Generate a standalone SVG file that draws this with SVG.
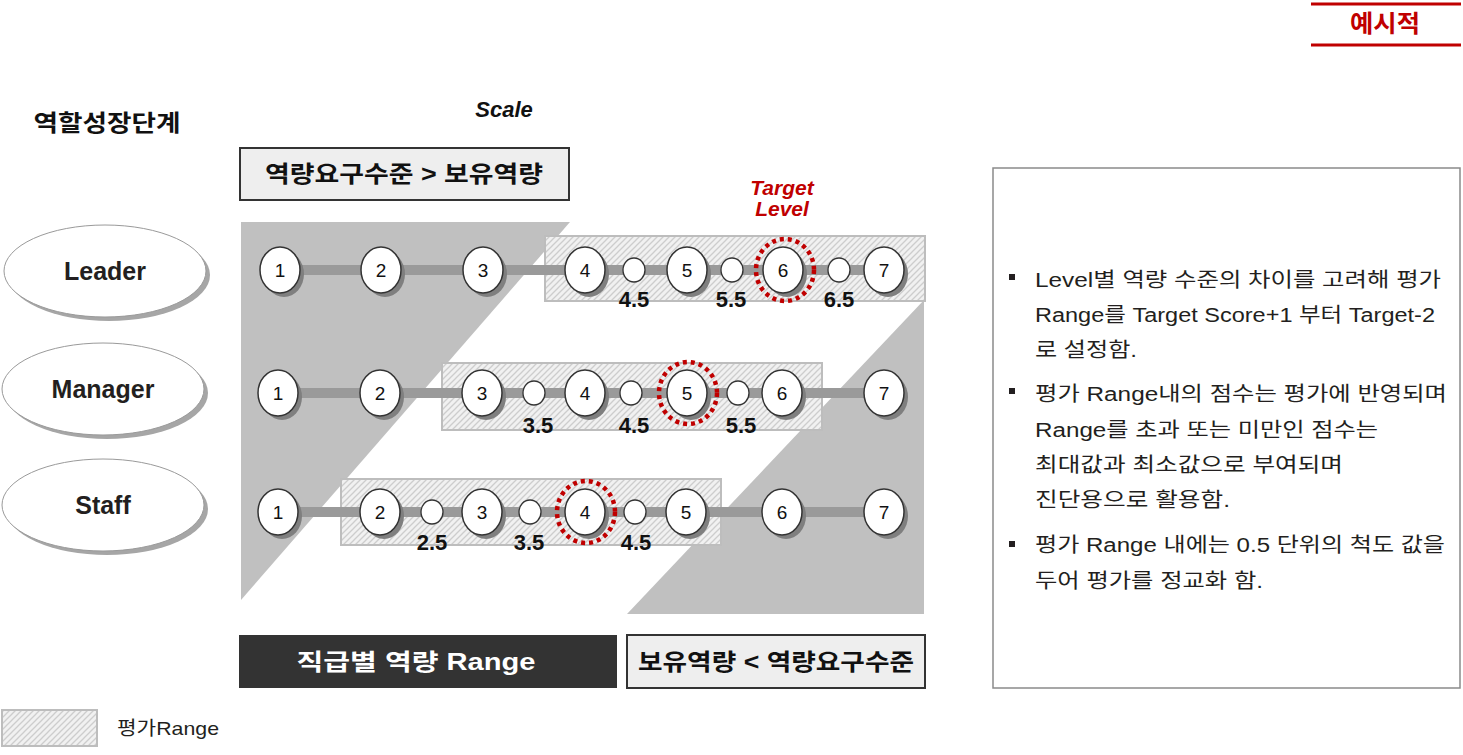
<svg xmlns="http://www.w3.org/2000/svg" width="1463" height="755" viewBox="0 0 1463 755">
<defs>
<pattern id="hatch" patternUnits="userSpaceOnUse" width="6" height="6">
<rect width="6" height="6" fill="#f1f1f1"/>
<path d="M0,6 L6,0 M-1,1 L1,-1 M5,7 L7,5" stroke="#cdcdcd" stroke-width="1.3"/>
</pattern>
</defs>
<style>
.kb{font-family:"Liberation Sans","Noto Sans CJK KR",sans-serif;font-weight:bold;}
.kr{font-family:"Liberation Sans","Noto Sans CJK KR",sans-serif;}
.range{fill:url(#hatch);stroke:#bdbdbd;stroke-width:2;}
.big{fill:#fff;stroke:#333;stroke-width:1.5;}
.sh{fill:#7f7f7f;}
.small{fill:#fff;stroke:#333;stroke-width:1.3;}
.num{font-family:"Liberation Sans",sans-serif;font-size:19px;fill:#111;text-anchor:middle;}
.half{font-family:"Liberation Sans",sans-serif;font-size:22px;font-weight:bold;fill:#111;text-anchor:middle;}
.tgt{fill:none;stroke:#c00000;stroke-width:4.5;stroke-dasharray:4 4;}
.role{fill:#fff;stroke:#9a9a9a;stroke-width:1;}
.roleSh{fill:#a6a6a6;}
.roleT{font-family:"Liberation Sans",sans-serif;font-weight:bold;font-size:25px;fill:#231f20;text-anchor:middle;}
.body{font-family:"Liberation Sans","Noto Sans CJK KR",sans-serif;font-size:20px;fill:#231f20;}
.bar{stroke:#9a9a9a;stroke-width:10;}
.tl{font-family:"Liberation Sans",sans-serif;font-weight:bold;font-style:italic;font-size:21px;fill:#c00000;text-anchor:middle;}
</style>

<!-- header tag -->
<g id="tag">
<line x1="1311" y1="4" x2="1461" y2="4" stroke="#c00000" stroke-width="3"/>
<line x1="1311" y1="45" x2="1461" y2="45" stroke="#c00000" stroke-width="3"/>
<text x="1385" y="32" class="kb" font-size="24" fill="#c00000" text-anchor="middle" textLength="70" lengthAdjust="spacingAndGlyphs">예시적</text>
</g>

<text x="107" y="131" class="kb" font-size="23" fill="#111" text-anchor="middle" textLength="147" lengthAdjust="spacingAndGlyphs">역할성장단계</text>
<text x="504" y="117" font-family="Liberation Sans,sans-serif" font-weight="bold" font-style="italic" font-size="22" fill="#111" text-anchor="middle">Scale</text>

<!-- background gray areas -->
<polygon points="241,222 570,222 241,600" fill="#c0c0c0"/>
<polygon points="924,300 924,614 627,614" fill="#c0c0c0"/>

<g id="box-top">
<rect x="240" y="148" width="329" height="52" fill="#eeeeee" stroke="#333" stroke-width="2"/>
<text x="404" y="182" class="kb" font-size="23" fill="#111" text-anchor="middle" textLength="278" lengthAdjust="spacingAndGlyphs">역량요구수준 &gt; 보유역량</text>
</g>

<g id="target-label">
<text x="782" y="195" class="tl">Target</text>
<text x="782" y="216" class="tl">Level</text>
</g>

<!-- range boxes -->
<g id="range-leader"><rect x="545" y="236" width="380" height="65" class="range"/></g>
<g id="range-manager"><rect x="442" y="363" width="380" height="67" class="range"/></g>
<g id="range-staff"><rect x="341" y="479" width="380" height="66" class="range"/></g>

<!-- connectors -->
<g id="connectors">
<line class="bar" x1="280" y1="270" x2="884" y2="270"/>
<line class="bar" x1="278" y1="393" x2="884" y2="393"/>
<line class="bar" x1="278" y1="512" x2="884" y2="512"/>
</g>

<!-- roles -->
<g id="role-leader">
<ellipse cx="109" cy="275" rx="101" ry="46" class="roleSh"/>
<ellipse cx="105" cy="271" rx="101" ry="46" class="role"/>
<text x="105" y="280" class="roleT">Leader</text>
</g>
<g id="role-manager">
<ellipse cx="107" cy="393" rx="101" ry="46" class="roleSh"/>
<ellipse cx="103" cy="389" rx="101" ry="46" class="role"/>
<text x="103" y="398" class="roleT">Manager</text>
</g>
<g id="role-staff">
<ellipse cx="107" cy="509" rx="101" ry="46" class="roleSh"/>
<ellipse cx="103" cy="505" rx="101" ry="46" class="role"/>
<text x="103" y="514" class="roleT">Staff</text>
</g>

<!-- Leader row -->
<g id="leader-1"><ellipse cx="284" cy="274" rx="20" ry="23" class="sh"/><ellipse cx="280" cy="270" rx="20" ry="23" class="big"/><text x="280" y="277" class="num">1</text></g>
<g id="leader-2"><ellipse cx="385" cy="274" rx="20" ry="23" class="sh"/><ellipse cx="381" cy="270" rx="20" ry="23" class="big"/><text x="381" y="277" class="num">2</text></g>
<g id="leader-3"><ellipse cx="487" cy="274" rx="20" ry="23" class="sh"/><ellipse cx="483" cy="270" rx="20" ry="23" class="big"/><text x="483" y="277" class="num">3</text></g>
<g id="leader-4"><ellipse cx="589" cy="274" rx="20" ry="23" class="sh"/><ellipse cx="585" cy="270" rx="20" ry="23" class="big"/><text x="585" y="277" class="num">4</text></g>
<g id="leader-4_5"><ellipse cx="634" cy="270" rx="11" ry="12" class="small"/><text x="634" y="307" class="half">4.5</text></g>
<g id="leader-5"><ellipse cx="691" cy="274" rx="20" ry="23" class="sh"/><ellipse cx="687" cy="270" rx="20" ry="23" class="big"/><text x="687" y="277" class="num">5</text></g>
<g id="leader-5_5"><ellipse cx="732" cy="270" rx="11" ry="12" class="small"/><text x="731" y="307" class="half">5.5</text></g>
<g id="leader-6"><ellipse cx="787" cy="274" rx="20" ry="23" class="sh"/><ellipse cx="783" cy="270" rx="20" ry="23" class="big"/><text x="783" y="277" class="num">6</text><ellipse cx="785" cy="270" rx="29" ry="31" class="tgt"/></g>
<g id="leader-6_5"><ellipse cx="839" cy="270" rx="11" ry="12" class="small"/><text x="839" y="307" class="half">6.5</text></g>
<g id="leader-7"><ellipse cx="888" cy="274" rx="20" ry="23" class="sh"/><ellipse cx="884" cy="270" rx="20" ry="23" class="big"/><text x="884" y="277" class="num">7</text></g>

<!-- Manager row -->
<g id="manager-1"><ellipse cx="282" cy="397" rx="20" ry="23" class="sh"/><ellipse cx="278" cy="393" rx="20" ry="23" class="big"/><text x="278" y="400" class="num">1</text></g>
<g id="manager-2"><ellipse cx="384" cy="397" rx="20" ry="23" class="sh"/><ellipse cx="380" cy="393" rx="20" ry="23" class="big"/><text x="380" y="400" class="num">2</text></g>
<g id="manager-3"><ellipse cx="486" cy="397" rx="20" ry="23" class="sh"/><ellipse cx="482" cy="393" rx="20" ry="23" class="big"/><text x="482" y="400" class="num">3</text></g>
<g id="manager-3_5"><ellipse cx="534" cy="393" rx="11" ry="12" class="small"/><text x="538" y="433" class="half">3.5</text></g>
<g id="manager-4"><ellipse cx="589" cy="397" rx="20" ry="23" class="sh"/><ellipse cx="585" cy="393" rx="20" ry="23" class="big"/><text x="585" y="400" class="num">4</text></g>
<g id="manager-4_5"><ellipse cx="631" cy="393" rx="11" ry="12" class="small"/><text x="634" y="433" class="half">4.5</text></g>
<g id="manager-5"><ellipse cx="691" cy="397" rx="20" ry="23" class="sh"/><ellipse cx="687" cy="393" rx="20" ry="23" class="big"/><text x="687" y="400" class="num">5</text><ellipse cx="688" cy="393" rx="29" ry="31" class="tgt"/></g>
<g id="manager-5_5"><ellipse cx="738" cy="393" rx="11" ry="12" class="small"/><text x="741" y="433" class="half">5.5</text></g>
<g id="manager-6"><ellipse cx="786" cy="397" rx="20" ry="23" class="sh"/><ellipse cx="782" cy="393" rx="20" ry="23" class="big"/><text x="782" y="400" class="num">6</text></g>
<g id="manager-7"><ellipse cx="888" cy="397" rx="20" ry="23" class="sh"/><ellipse cx="884" cy="393" rx="20" ry="23" class="big"/><text x="884" y="400" class="num">7</text></g>

<!-- Staff row -->
<g id="staff-1"><ellipse cx="282" cy="516" rx="20" ry="23" class="sh"/><ellipse cx="278" cy="512" rx="20" ry="23" class="big"/><text x="278" y="519" class="num">1</text></g>
<g id="staff-2"><ellipse cx="384" cy="516" rx="20" ry="23" class="sh"/><ellipse cx="380" cy="512" rx="20" ry="23" class="big"/><text x="380" y="519" class="num">2</text></g>
<g id="staff-2_5"><ellipse cx="432" cy="512" rx="11" ry="12" class="small"/><text x="432" y="550" class="half">2.5</text></g>
<g id="staff-3"><ellipse cx="486" cy="516" rx="20" ry="23" class="sh"/><ellipse cx="482" cy="512" rx="20" ry="23" class="big"/><text x="482" y="519" class="num">3</text></g>
<g id="staff-3_5"><ellipse cx="530" cy="512" rx="11" ry="12" class="small"/><text x="529" y="550" class="half">3.5</text></g>
<g id="staff-4"><ellipse cx="589" cy="516" rx="20" ry="23" class="sh"/><ellipse cx="585" cy="512" rx="20" ry="23" class="big"/><text x="585" y="519" class="num">4</text><ellipse cx="586" cy="512" rx="29" ry="31" class="tgt"/></g>
<g id="staff-4_5"><ellipse cx="635" cy="512" rx="11" ry="12" class="small"/><text x="636" y="550" class="half">4.5</text></g>
<g id="staff-5"><ellipse cx="690" cy="516" rx="20" ry="23" class="sh"/><ellipse cx="686" cy="512" rx="20" ry="23" class="big"/><text x="686" y="519" class="num">5</text></g>
<g id="staff-6"><ellipse cx="786" cy="516" rx="20" ry="23" class="sh"/><ellipse cx="782" cy="512" rx="20" ry="23" class="big"/><text x="782" y="519" class="num">6</text></g>
<g id="staff-7"><ellipse cx="888" cy="516" rx="20" ry="23" class="sh"/><ellipse cx="884" cy="512" rx="20" ry="23" class="big"/><text x="884" y="519" class="num">7</text></g>

<!-- bottom boxes -->
<g id="box-range">
<rect x="239" y="635" width="378" height="53" fill="#333333"/>
<text x="416" y="670" class="kb" font-size="23" fill="#fff" text-anchor="middle" textLength="239" lengthAdjust="spacingAndGlyphs">직급별 역량 Range</text>
</g>
<g id="box-bottom">
<rect x="627" y="635" width="298" height="53" fill="#eeeeee" stroke="#333" stroke-width="2"/>
<text x="776" y="670" class="kb" font-size="23" fill="#111" text-anchor="middle" textLength="276" lengthAdjust="spacingAndGlyphs">보유역량 &lt; 역량요구수준</text>
</g>

<!-- note panel -->
<g id="notes">
<rect x="993" y="168" width="467" height="520" fill="#fff" stroke="#8a8a8a" stroke-width="1.5"/>
<rect x="1009" y="274" width="6" height="6" fill="#231f20"/>
<rect x="1009" y="388" width="6" height="6" fill="#231f20"/>
<rect x="1009" y="541" width="6" height="6" fill="#231f20"/>
<text x="1035" y="287" class="body" textLength="406" lengthAdjust="spacingAndGlyphs">Level별 역량 수준의 차이를 고려해 평가</text>
<text x="1035" y="322" class="body" textLength="400" lengthAdjust="spacingAndGlyphs">Range를 Target Score+1 부터 Target-2</text>
<text x="1035" y="357" class="body" textLength="102" lengthAdjust="spacingAndGlyphs">로 설정함.</text>
<text x="1035" y="401" class="body" textLength="412" lengthAdjust="spacingAndGlyphs">평가 Range내의 점수는 평가에 반영되며</text>
<text x="1035" y="437" class="body" textLength="343" lengthAdjust="spacingAndGlyphs">Range를 초과 또는 미만인 점수는</text>
<text x="1035" y="472" class="body" textLength="308" lengthAdjust="spacingAndGlyphs">최대값과 최소값으로 부여되며</text>
<text x="1035" y="507" class="body" textLength="195" lengthAdjust="spacingAndGlyphs">진단용으로 활용함.</text>
<text x="1035" y="552" class="body" textLength="410" lengthAdjust="spacingAndGlyphs">평가 Range 내에는 0.5 단위의 척도 값을</text>
<text x="1035" y="588" class="body" textLength="228" lengthAdjust="spacingAndGlyphs">두어 평가를 정교화 함.</text>
</g>

<!-- legend -->
<g id="legend">
<rect x="2" y="710" width="95" height="36" class="range"/>
<text x="117" y="735" class="kr" font-size="19" fill="#231f20" textLength="102" lengthAdjust="spacingAndGlyphs">평가Range</text>
</g>
</svg>
